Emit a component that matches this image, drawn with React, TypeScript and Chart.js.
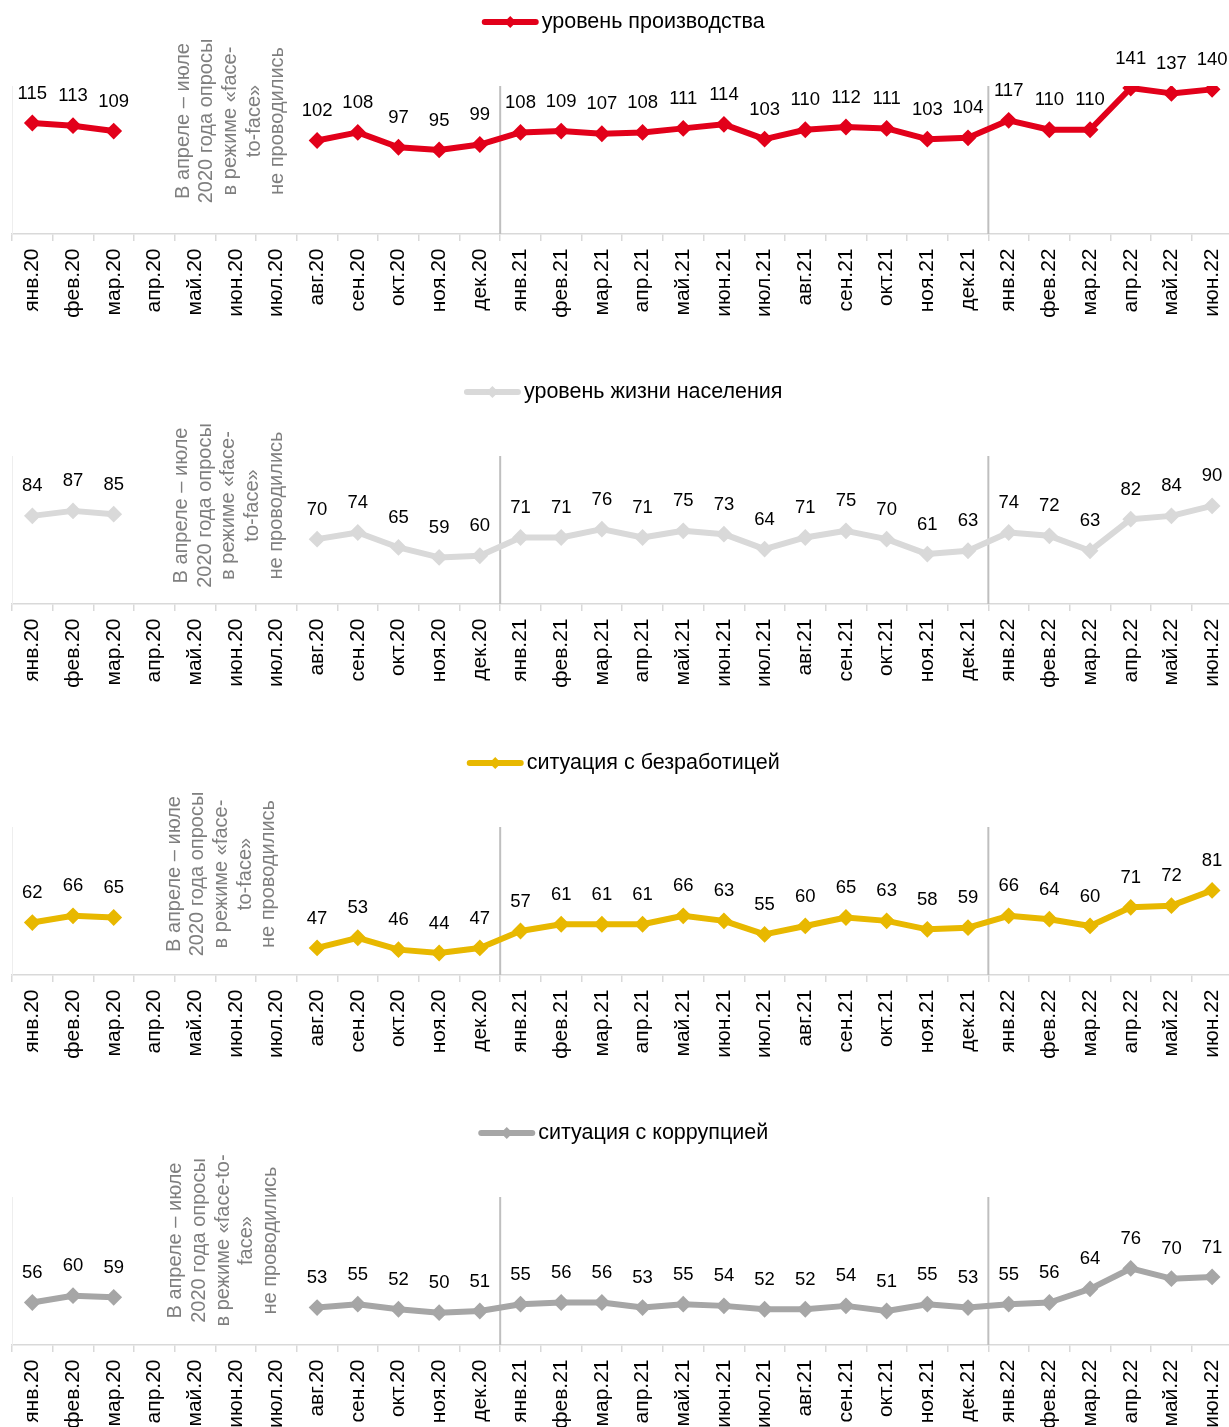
import React, { useEffect, useRef } from 'react';
import { Chart, registerables } from 'chart.js';

Chart.register(...registerables);

const FONT = "'Liberation Sans', Arial, Helvetica, sans-serif";

const months = [
  'янв.20', 'фев.20', 'мар.20', 'апр.20', 'май.20', 'июн.20', 'июл.20', 'авг.20', 'сен.20', 'окт.20', 'ноя.20', 'дек.20',
  'янв.21', 'фев.21', 'мар.21', 'апр.21', 'май.21', 'июн.21', 'июл.21', 'авг.21', 'сен.21', 'окт.21', 'ноя.21', 'дек.21',
  'янв.22', 'фев.22', 'мар.22', 'апр.22', 'май.22', 'июн.22',
];

const production = [
  115, 113, 109, null, null, null, null, 102, 108, 97, 95, 99,
  108, 109, 107, 108, 111, 114, 103, 110, 112, 111, 103, 104,
  117, 110, 110, 141, 137, 140,
];

const livingStandard = [
  84, 87, 85, null, null, null, null, 70, 74, 65, 59, 60,
  71, 71, 76, 71, 75, 73, 64, 71, 75, 70, 61, 63,
  74, 72, 63, 82, 84, 90,
];

const unemployment = [
  62, 66, 65, null, null, null, null, 47, 53, 46, 44, 47,
  57, 61, 61, 61, 66, 63, 55, 60, 65, 63, 58, 59,
  66, 64, 60, 71, 72, 81,
];

const corruption = [
  56, 60, 59, null, null, null, null, 53, 55, 52, 50, 51,
  55, 56, 56, 53, 55, 54, 52, 52, 54, 51, 55, 53,
  55, 56, 64, 76, 70, 71,
];

const seriesLabels = [
  'уровень производства',
  'уровень жизни населения',
  'ситуация с безработицей',
  'ситуация с коррупцией',
];

const noteStandard = ['В апреле – июле', '2020 года опросы', 'в режиме «face-', 'to-face»', 'не проводились'];
const noteAlt = ['В апреле – июле', '2020 года опросы', 'в режиме «face-to-', 'face»', 'не проводились'];

// index after which a year-separator line is drawn (between дек and янв)
const yearBreaks = [11, 23];

type Cfg = {
  label: string;
  values: (number | null)[];
  color: string;
  min: number;
  max: number;
  note: string[];
  noteIndex: number;
  noteY: number;
};

const charts: Cfg[] = [
  { label: seriesLabels[0], values: production, color: '#E2001A', min: 32.5, max: 142.5, note: noteStandard, noteIndex: 4.87, noteY: 121 },
  { label: seriesLabels[1], values: livingStandard, color: '#D9D9D9', min: 31, max: 120, note: noteStandard, noteIndex: 4.83, noteY: 135.5 },
  { label: seriesLabels[2], values: unemployment, color: '#E8B800', min: 31, max: 118.5, note: noteStandard, noteIndex: 4.65, noteY: 133 },
  { label: seriesLabels[3], values: corruption, color: '#A6A6A6', min: 31, max: 118, note: noteAlt, noteIndex: 4.69, noteY: 129.5 },
];

const CW = 1245;
const CH = 370;

function LineChart({ cfg, top }: { cfg: Cfg; top: number }) {
  const ref = useRef<HTMLCanvasElement>(null);

  useEffect(() => {
    const extras = {
      id: 'extras',
      beforeDatasetsDraw(chart: any) {
        const { ctx, chartArea } = chart;
        const x = chart.scales.x;
        ctx.save();
        // faint left axis line
        ctx.strokeStyle = '#eeeeee';
        ctx.lineWidth = 1;
        ctx.beginPath();
        ctx.moveTo(chartArea.left + 0.5, chartArea.top);
        ctx.lineTo(chartArea.left + 0.5, chartArea.bottom);
        ctx.stroke();
        // year separators
        ctx.strokeStyle = '#BFBFBF';
        ctx.lineWidth = 2;
        yearBreaks.forEach((b) => {
          const px = (x.getPixelForValue(b) + x.getPixelForValue(b + 1)) / 2;
          ctx.beginPath();
          ctx.moveTo(px, chartArea.top);
          ctx.lineTo(px, chartArea.bottom);
          ctx.stroke();
        });
        // note text (rotated)
        const cx = x.getPixelForValue(cfg.noteIndex);
        ctx.translate(cx, cfg.noteY);
        ctx.rotate(-Math.PI / 2);
        ctx.fillStyle = '#7F7F7F';
        ctx.font = `20px ${FONT}`;
        ctx.textAlign = 'center';
        ctx.textBaseline = 'middle';
        const lh = 23.6;
        const n = cfg.note.length;
        cfg.note.forEach((line, i) => {
          ctx.fillText(line, 0, (i - (n - 1) / 2) * lh);
        });
        ctx.restore();
      },
      afterDatasetsDraw(chart: any) {
        const { ctx } = chart;
        const meta = chart.getDatasetMeta(0);
        ctx.save();
        ctx.fillStyle = '#000000';
        ctx.font = `18.5px ${FONT}`;
        ctx.textAlign = 'center';
        ctx.textBaseline = 'middle';
        meta.data.forEach((el: any, i: number) => {
          const v = cfg.values[i];
          if (v === null || v === undefined) return;
          ctx.fillText(String(v), el.x, el.y - 29.5);
        });
        ctx.restore();
      },
      afterDraw(chart: any) {
        const { ctx, chartArea } = chart;
        ctx.save();
        ctx.font = `21.5px ${FONT}`;
        const tw = ctx.measureText(cfg.label).width;
        const symW = 57;
        const gap = 3;
        const total = symW + gap + tw;
        const cx = (chartArea.left + chartArea.right) / 2 + 1;
        const x0 = cx - total / 2;
        const y = 22;
        ctx.strokeStyle = cfg.color;
        ctx.lineWidth = 6;
        ctx.lineCap = 'round';
        ctx.beginPath();
        ctx.moveTo(x0 + 3, y);
        ctx.lineTo(x0 + symW - 3, y);
        ctx.stroke();
        ctx.fillStyle = cfg.color;
        const dx = x0 + symW / 2;
        const r = 6;
        ctx.beginPath();
        ctx.moveTo(dx, y - r);
        ctx.lineTo(dx + r, y);
        ctx.lineTo(dx, y + r);
        ctx.lineTo(dx - r, y);
        ctx.closePath();
        ctx.fill();
        ctx.fillStyle = '#000000';
        ctx.textAlign = 'left';
        ctx.textBaseline = 'middle';
        ctx.fillText(cfg.label, x0 + symW + gap, y);
        ctx.restore();
      },
    };

    const chart = new Chart(ref.current as HTMLCanvasElement, {
      type: 'line',
      data: {
        labels: months,
        datasets: [
          {
            label: cfg.label,
            data: cfg.values,
            borderColor: cfg.color,
            backgroundColor: cfg.color,
            borderWidth: 6,
            borderJoinStyle: 'round',
            borderCapStyle: 'round',
            pointStyle: 'rectRot',
            pointRadius: 7,
            pointBorderWidth: 2,
            pointBackgroundColor: cfg.color,
            pointBorderColor: cfg.color,
            spanGaps: false,
            tension: 0,
          } as any,
        ],
      },
      options: {
        animation: false,
        responsive: false,
        devicePixelRatio: 1,
        layout: { padding: { left: 12, right: 12, top: 86, bottom: 36 } },
        plugins: {
          legend: { display: false },
          tooltip: { enabled: false },
        },
        scales: {
          x: {
            offset: true,
            grid: {
              offset: true,
              drawOnChartArea: false,
              drawTicks: true,
              tickLength: 7,
              color: '#D9D9D9',
              lineWidth: 1.5,
            },
            border: { display: true, color: '#D9D9D9', width: 1.5 },
            ticks: {
              autoSkip: false,
              minRotation: 90,
              maxRotation: 90,
              padding: 7.5,
              color: '#000000',
              font: { family: FONT, size: 21 },
            },
            afterFit: (s: any) => {
              s.height = 100;
            },
          } as any,
          y: { display: false, min: cfg.min, max: cfg.max },
        },
      },
      plugins: [extras],
    });
    return () => chart.destroy();
  }, [cfg]);

  return (
    <div style={{ position: 'absolute', left: 0, top, width: CW, height: CH }}>
      <canvas ref={ref} width={CW} height={CH} style={{ width: CW, height: CH, display: 'block' }} />
    </div>
  );
}

export default function App() {
  const tops = [0, 370, 741, 1111];
  return (
    <div style={{ position: 'absolute', left: 0, top: 0, width: 1229, height: 1427, overflow: 'hidden', background: '#ffffff' }}>
      {charts.map((c, i) => (
        <LineChart key={i} cfg={c} top={tops[i]} />
      ))}
    </div>
  );
}
